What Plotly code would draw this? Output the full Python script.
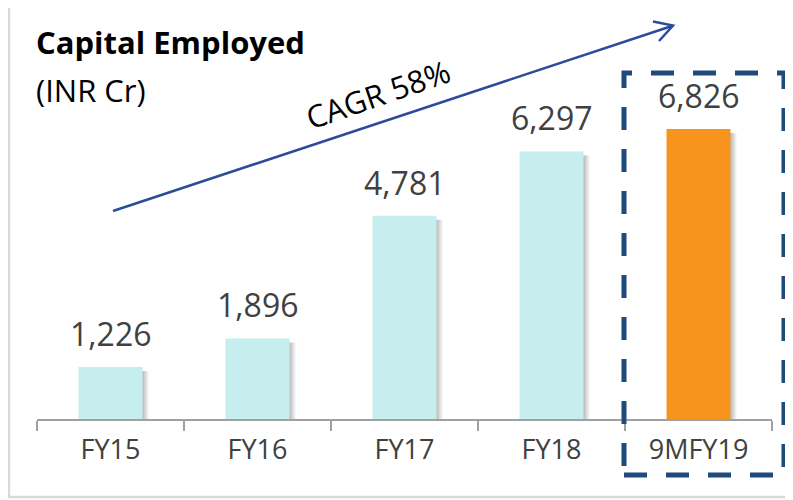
import plotly.graph_objects as go

categories = ["FY15", "FY16", "FY17", "FY18", "9MFY19"]
values = [1226, 1896, 4781, 6297, 6826]
bar_colors = ["#C6EEEE", "#C6EEEE", "#C6EEEE", "#C6EEEE", "#F7941D"]
title_text = "Capital Employed"
unit_text = "(INR Cr)"
cagr_text = "CAGR 58%"

OFF = 8  # page body margin
W, H = 793 - OFF, 500 - OFF
L, R, T, B = 37 - OFF, 21, 20 - OFF, 81
PW, PH = W - L - R, H - T - B
YMAX = PH / 0.0425


def xp(px):
    return (px - OFF - L) / PW


def yp(py):
    return (H - B - (py - OFF)) / PH


fig = go.Figure()

# soft shadows behind bars
bw = 0.435
for dx, op in [(6, 0.10), (4, 0.14), (2, 0.18)]:
    fig.add_trace(go.Bar(
        x=categories, y=[v - 4 / 0.0425 for v in values],
        width=bw, offset=-bw / 2 + dx / (PW / 5),
        marker=dict(color="rgba(90,90,90,%s)" % op, line=dict(width=0)),
        hoverinfo="skip", showlegend=False,
    ))

fig.add_trace(go.Bar(
    x=categories, y=values, width=bw, offset=-bw / 2,
    marker=dict(color=bar_colors, line=dict(width=0)),
    showlegend=False,
))

for c, v in zip(categories, values):
    fig.add_annotation(
        x=c, y=v, text=f"{v:,}", showarrow=False, yanchor="bottom",
        yshift=10, font=dict(family="Open Sans", size=32, color="#404040"),
    )

fig.update_layout(
    width=W, height=H, margin=dict(l=L, r=R, t=T, b=B),
    paper_bgcolor="white", plot_bgcolor="white", barmode="overlay",
    xaxis=dict(
        range=[-0.5, 4.5], showgrid=False, zeroline=False,
        showline=True, linecolor="#A0A0A0", linewidth=2,
        ticks="outside", tickson="boundaries", ticklen=10, tickwidth=2,
        tickcolor="#A0A0A0", ticklabelstandoff=6,
        tickfont=dict(family="Open Sans", size=27, color="#404040"),
    ),
    yaxis=dict(range=[0, YMAX], visible=False),
    showlegend=False,
)

# title texts
fig.add_annotation(xref="paper", yref="paper", x=xp(34), y=yp(42),
                   text="<b>%s</b>" % title_text, showarrow=False,
                   xanchor="left", yanchor="middle",
                   font=dict(family="Open Sans", size=31, color="black"))
fig.add_annotation(xref="paper", yref="paper", x=xp(34), y=yp(90),
                   text=unit_text, showarrow=False,
                   xanchor="left", yanchor="middle",
                   font=dict(family="Open Sans", size=31, color="black"))
fig.add_annotation(xref="paper", yref="paper", x=xp(378), y=yp(94),
                   text=cagr_text, showarrow=False, textangle=-19,
                   xanchor="center", yanchor="middle",
                   font=dict(family="Open Sans", size=31, color="black"))

arrow_col = "#2B4C9B"
fig.add_shape(type="line", xref="paper", yref="paper",
              x0=xp(113), y0=yp(211), x1=xp(672), y1=yp(26),
              line=dict(color=arrow_col, width=2.5))
fig.add_shape(type="path", xref="paper", yref="paper",
              path="M %f %f L %f %f L %f %f" % (xp(653), yp(21.5), xp(673), yp(25.5), xp(659), yp(41)),
              line=dict(color=arrow_col, width=2.5))

# dashed highlight box
fig.add_shape(type="rect", xref="paper", yref="paper",
              x0=xp(624), x1=xp(784), y0=yp(475), y1=yp(73),
              line=dict(color="#1F4A7C", width=5, dash="23px,19px"))

# outer frame
fig.add_shape(type="rect", xref="paper", yref="paper",
              x0=xp(9), x1=xp(810), y0=yp(497), y1=yp(6),
              line=dict(color="#D9D9D9", width=2.5))

fig.write_html("out.html")
